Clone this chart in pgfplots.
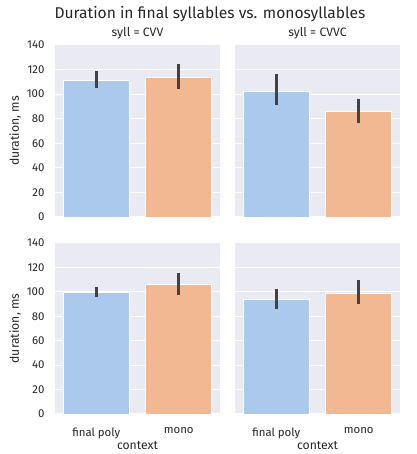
\documentclass[border=0pt]{standalone}
\usepackage{fontspec}
\setmainfont{Fira Sans}
\usepackage{pgfplots}
\pgfplotsset{compat=1.18}
\definecolor{bgc}{HTML}{EAEAF2}
\definecolor{cblue}{HTML}{ABC9ED}
\definecolor{corange}{HTML}{F1B892}
\definecolor{errc}{HTML}{424242}
\definecolor{txt}{HTML}{262626}
\pgfplotsset{
  facet/.style={
    scale only axis, width=165pt, height=172pt,
    xmin=-0.5, xmax=1.5, ymin=0, ymax=140,
    ytick={0,20,...,140},
    xtick={0,1},
    axis background/.style={fill=bgc},
    axis line style={draw=none},
    major tick length=0pt,
    ymajorgrids, grid style={white, line width=1pt},
    tick label style={font=\fontsize{11.4}{13}\selectfont, text=txt},
    /pgf/number format/assume math mode=true,
    label style={font=\fontsize{12.2}{14}\selectfont, text=txt},
    title style={font=\fontsize{12.2}{14}\selectfont, text=txt, yshift=-4pt},
    yticklabel style={xshift=-7pt},
    xticklabel style={yshift=-10pt},
    xlabel style={yshift=2pt, inner sep=1pt},
    ylabel style={yshift=-1pt},
  },
  barA/.style={ybar, bar width=0.8, bar shift=0pt, fill=cblue, draw=white, line width=0.8pt},
  barB/.style={ybar, bar width=0.8, bar shift=0pt, fill=corange, draw=white, line width=0.8pt},
  err/.style={errc, line width=2.6pt, mark=none},
}
\begin{document}
\begin{tikzpicture}
\path[use as bounding box] (0,0) rectangle (416pt,454pt);
\node[font=\fontsize{15.6}{18}\selectfont, text=txt] at (210pt,440pt) {Duration in final syllables vs. monosyllables};
% top-left
\begin{axis}[facet, at={(55pt,237pt)}, anchor=south west, title={syll = CVV},
  xticklabels={}, ylabel={duration, ms}]
\addplot[barA] coordinates {(0,111.5)};
\addplot[barB] coordinates {(1,113.7)};
\addplot[err] coordinates {(0,105.0) (0,118.8)};
\addplot[err] coordinates {(1,104.2) (1,124.2)};
\end{axis}
% top-right
\begin{axis}[facet, at={(235pt,237pt)}, anchor=south west, title={syll = CVVC},
  xticklabels={}, yticklabels={}]
\addplot[barA] coordinates {(0,102.5)};
\addplot[barB] coordinates {(1,86.0)};
\addplot[err] coordinates {(0,90.9) (0,116.1)};
\addplot[err] coordinates {(1,76.7) (1,96.3)};
\node[rotate=-90, font=\fontsize{12.2}{14}\selectfont, text=txt] at (rel axis cs:1.05,0.5) {vowel = high};
\end{axis}
% bottom-left
\begin{axis}[facet, height=171pt, at={(55pt,40pt)}, anchor=south west,
  xticklabels={final poly, mono}, xlabel={context}, ylabel={duration, ms}]
\addplot[barA] coordinates {(0,99.3)};
\addplot[barB] coordinates {(1,106.2)};
\addplot[err] coordinates {(0,95.8) (0,103.7)};
\addplot[err] coordinates {(1,97.2) (1,115.2)};
\end{axis}
% bottom-right
\begin{axis}[facet, height=171pt, at={(235pt,40pt)}, anchor=south west,
  xticklabels={final poly, mono}, xlabel={context}, yticklabels={}]
\addplot[barA] coordinates {(0,93.6)};
\addplot[barB] coordinates {(1,99.1)};
\addplot[err] coordinates {(0,85.7) (0,102.4)};
\addplot[err] coordinates {(1,90.1) (1,109.7)};
\node[rotate=-90, font=\fontsize{12.2}{14}\selectfont, text=txt] at (rel axis cs:1.05,0.5) {vowel = low};
\end{axis}
\end{tikzpicture}
\end{document}
